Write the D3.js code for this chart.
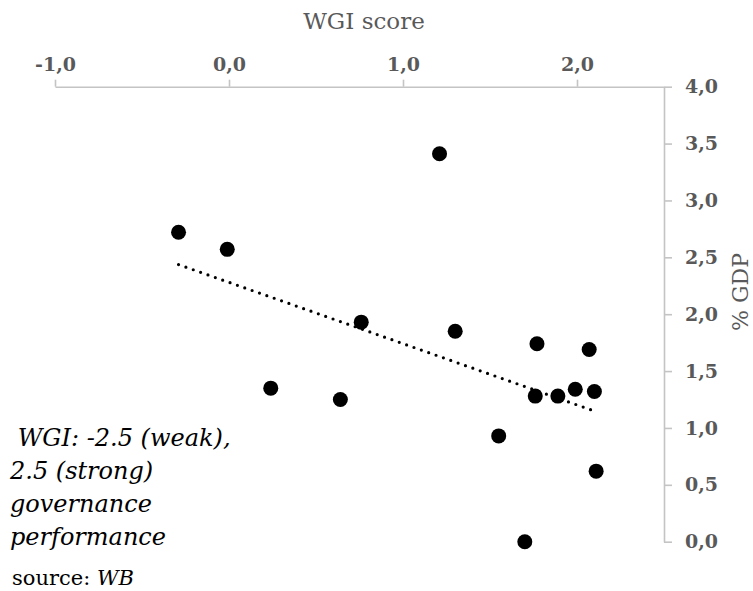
<!DOCTYPE html>
<html>
<head>
<meta charset="utf-8">
<script src="https://cdn.jsdelivr.net/npm/d3@7"></script>
<style>
  html, body { margin: 0; padding: 0; background: #ffffff; }
  svg { display: block; }
</style>
</head>
<body>
<svg id="chart" width="753" height="591"></svg>
<script>
// WGI score (x) and % GDP (y) for each country point
const wgiScores = [-0.29, -0.01, 0.24, 0.76, 0.64, 1.21, 1.30, 1.77, 2.07, 1.76, 1.89, 1.99, 2.10, 1.55, 2.11, 1.70];
const gdpShares = [2.72, 2.57, 1.35, 1.93, 1.25, 3.41, 1.85, 1.74, 1.69, 1.28, 1.28, 1.34, 1.32, 0.93, 0.62, 0.00];
const xTicks = [-1, 0, 1, 2];
const yTicks = [0, 0.5, 1, 1.5, 2, 2.5, 3, 3.5, 4];
const xTitle = "WGI score";
const yTitle = "% GDP";
const noteLines = [" WGI: -2.5 (weak),", "2.5 (strong)", "governance", "performance"];

const svg = d3.select("#chart");
const axisColor = "#c4c4c4";
const labelColor = "#595959";
const serif = "'DejaVu Serif', 'Liberation Serif', serif";

const x = d3.scaleLinear().domain([-1, 2.5]).range([55, 664]);
const y = d3.scaleLinear().domain([0, 4]).range([541.7, 86.7]);
const fmt = v => d3.format(".1f")(v).replace(".", ",").replace("\u2212", "-");

// X axis (top)
const gx = svg.append("g").attr("transform", `translate(0,${y(4)})`)
  .call(d3.axisTop(x).tickValues(xTicks).tickSize(7).tickSizeOuter(0).tickPadding(9).tickFormat(fmt));
gx.select(".domain").attr("stroke", axisColor).attr("stroke-width", 1.6);
gx.selectAll(".tick line").attr("stroke", axisColor).attr("stroke-width", 1.6);
gx.selectAll(".tick text").attr("fill", labelColor).attr("font-family", serif)
  .attr("font-size", 19).attr("font-weight", "bold");

// Y axis (right)
const gy = svg.append("g").attr("transform", `translate(${x(2.5)},0)`)
  .call(d3.axisRight(y).tickValues(yTicks).tickSize(8).tickSizeOuter(0).tickPadding(13).tickFormat(fmt));
gy.select(".domain").attr("stroke", axisColor).attr("stroke-width", 1.6);
gy.selectAll(".tick line").attr("stroke", axisColor).attr("stroke-width", 1.6);
gy.selectAll(".tick text").attr("fill", labelColor).attr("font-family", serif)
  .attr("font-size", 19).attr("font-weight", "bold");

// Axis titles
svg.append("text").attr("x", 364).attr("y", 29).attr("text-anchor", "middle")
  .attr("fill", labelColor).attr("font-family", serif).attr("font-size", 23).text(xTitle);
svg.append("text").attr("transform", `translate(748,${292}) rotate(-90)`).attr("text-anchor", "middle")
  .attr("fill", labelColor).attr("font-family", serif).attr("font-size", 22).text(yTitle);

// Linear trend (least squares from data)
const mx = d3.mean(wgiScores), my = d3.mean(gdpShares);
let sxy = 0, sxx = 0;
wgiScores.forEach((v, i) => { sxy += (v - mx) * (gdpShares[i] - my); sxx += (v - mx) * (v - mx); });
const slope = sxy / sxx, intercept = my - slope * mx;
const [x0, x1] = d3.extent(wgiScores);
svg.append("path")
  .datum([[x0, intercept + slope * x0], [x1, intercept + slope * x1]])
  .attr("d", d3.line().x(d => x(d[0])).y(d => y(d[1])))
  .attr("fill", "none").attr("stroke", "#000").attr("stroke-width", 3.2)
  .attr("stroke-linecap", "round").attr("stroke-dasharray", "0 7.8");

// Points
svg.append("g").selectAll("circle")
  .data(wgiScores.map((v, i) => [v, gdpShares[i]]))
  .join("circle")
  .attr("cx", d => x(d[0])).attr("cy", d => y(d[1])).attr("r", 7.5).attr("fill", "#000");

// Note
const note = svg.append("text").attr("font-family", serif).attr("font-style", "italic")
  .attr("font-size", 24).attr("fill", "#000").attr("xml:space", "preserve");
noteLines.forEach((t, i) => {
  note.append("tspan").attr("x", 10).attr("y", 446 + i * 33).text(t);
});
const src = svg.append("text").attr("x", 12).attr("y", 585).attr("font-family", serif)
  .attr("font-size", 21).attr("fill", "#000");
src.append("tspan").text("source: ");
src.append("tspan").attr("font-style", "italic").text("WB");
</script>
</body>
</html>
